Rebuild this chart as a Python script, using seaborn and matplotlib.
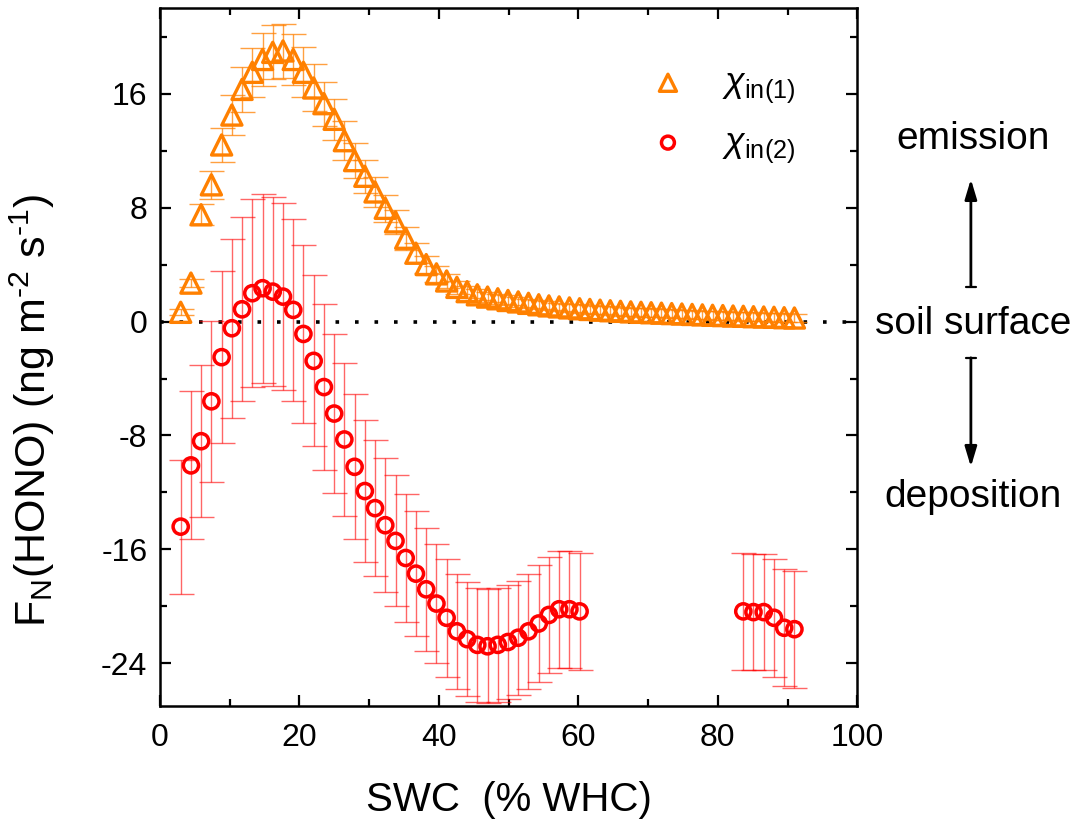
import numpy as np
import pandas as pd
import matplotlib
matplotlib.use("Agg")
import matplotlib.pyplot as plt
import seaborn as sns

# ---------------- data ----------------
swc = [2.97, 4.44, 5.90, 7.37, 8.84, 10.31, 11.77, 13.24, 14.71, 16.17,
       17.64, 19.11, 20.57, 22.04, 23.51, 24.98, 26.44, 27.91, 29.38, 30.84,
       32.31, 33.78, 35.24, 36.71, 38.18, 39.65, 41.11, 42.58, 44.05, 45.51,
       46.98, 48.45, 49.91, 51.38, 52.85, 54.32, 55.78, 57.25, 58.72, 60.18,
       61.65, 63.12, 64.58, 66.05, 67.52, 68.99, 70.45, 71.92, 73.39, 74.85,
       76.32, 77.79, 79.25, 80.72, 82.19, 83.66, 85.12, 86.59, 88.06, 89.52,
       90.99]

flux_in1 = [0.65, 2.7, 7.5, 9.6, 12.4, 14.5, 16.3, 17.5, 18.4, 18.9,
            19.0, 18.4, 17.5, 16.4, 15.3, 14.2, 12.7, 11.3, 10.2, 9.1,
            7.95, 7.0, 5.85, 4.8, 4.0, 3.35, 2.85, 2.4, 2.1, 1.88,
            1.72, 1.6, 1.48, 1.38, 1.28, 1.18, 1.1, 1.03, 0.96, 0.9,
            0.85, 0.8, 0.76, 0.72, 0.68, 0.65, 0.62, 0.59, 0.56, 0.53,
            0.5, 0.47, 0.44, 0.42, 0.39, 0.37, 0.34, 0.32, 0.3, 0.27,
            0.25]
err_in1 = [0.2, 0.3, 0.75, 1.0, 1.2, 1.4, 1.6, 1.7, 1.85, 1.9,
           1.9, 1.8, 1.75, 1.65, 1.55, 1.45, 1.35, 1.25, 1.15, 1.05,
           0.95, 0.85, 0.8, 0.7, 0.6, 0.55, 0.5, 0.45, 0.42, 0.4,
           0.38, 0.36, 0.35, 0.34, 0.33, 0.32, 0.31, 0.3, 0.3, 0.3,
           0.3, 0.3, 0.3, 0.3, 0.3, 0.3, 0.3, 0.3, 0.3, 0.3,
           0.3, 0.3, 0.3, 0.3, 0.3, 0.3, 0.3, 0.3, 0.3, 0.3,
           0.3]

swc_in2 = [2.97, 4.44, 5.90, 7.37, 8.84, 10.31, 11.77, 13.24, 14.71, 16.17,
           17.64, 19.11, 20.57, 22.04, 23.51, 24.98, 26.44, 27.91, 29.38, 30.84,
           32.31, 33.78, 35.24, 36.71, 38.18, 39.65, 41.11, 42.58, 44.05, 45.51,
           46.98, 48.45, 49.91, 51.38, 52.85, 54.32, 55.78, 57.25, 58.72, 60.18,
           83.66, 85.12, 86.59, 88.06, 89.52, 90.99]
flux_in2 = [-14.4, -10.1, -8.4, -5.6, -2.5, -0.47, 0.86, 1.99, 2.34, 2.1,
            1.75, 0.82, -0.87, -2.76, -4.6, -6.46, -8.28, -10.2, -11.9, -13.1,
            -14.3, -15.4, -16.6, -17.7, -18.8, -19.8, -20.8, -21.75, -22.3, -22.7,
            -22.8, -22.7, -22.5, -22.2, -21.75, -21.2, -20.6, -20.2, -20.2, -20.35,
            -20.35, -20.4, -20.4, -20.8, -21.5, -21.6]
err_in2 = [4.7, 5.2, 5.35, 5.65, 6.05, 6.3, 6.45, 6.6, 6.65, 6.65,
           6.55, 6.4, 6.25, 6.0, 5.8, 5.6, 5.35, 5.1, 5.0, 4.8,
           4.7, 4.6, 4.5, 4.4, 4.3, 4.2, 4.15, 4.05, 4.0, 4.0,
           4.0, 4.0, 4.0, 4.0, 4.05, 4.1, 4.1, 4.1, 4.1, 4.1,
           4.1, 4.1, 4.1, 4.15, 4.1, 4.1]

x_ticks = [0, 20, 40, 60, 80, 100]
y_ticks = [-24, -16, -8, 0, 8, 16]
label_in1 = r"$\chi_{\mathrm{in(1)}}$"
label_in2 = r"$\chi_{\mathrm{in(2)}}$"

df1 = pd.DataFrame({"swc": swc, "flux": flux_in1, "err": err_in1})
df2 = pd.DataFrame({"swc": swc_in2, "flux": flux_in2, "err": err_in2})

# ---------------- style ----------------
sns.set_theme(style="ticks")
plt.rcParams["font.family"] = ["Liberation Sans", "DejaVu Sans"]
plt.rcParams["mathtext.fontset"] = "custom"
plt.rcParams["mathtext.rm"] = "Liberation Sans"
plt.rcParams["mathtext.it"] = "Liberation Sans:italic"
plt.rcParams["mathtext.bf"] = "Liberation Sans:bold"
plt.rcParams["axes.unicode_minus"] = False
for key in ["text.color", "axes.labelcolor", "xtick.color", "ytick.color",
            "axes.edgecolor", "xtick.labelcolor", "ytick.labelcolor"]:
    plt.rcParams[key] = "black"

ORANGE = "#FF8000"
RED = "#FF0000"

fig = plt.figure(figsize=(10.81, 8.22), dpi=100)
ax = fig.add_axes([0.148, 0.141, 0.645, 0.849])

# zero line
ax.axhline(0, color="black", lw=2.6, linestyle=(0, (1, 4.4)), zorder=1)

# error bars
ax.errorbar(df1["swc"], df1["flux"], yerr=df1["err"], fmt="none",
            ecolor=ORANGE, elinewidth=1.0, capsize=9, capthick=1.0,
            alpha=0.75, zorder=2)
ax.errorbar(df2["swc"], df2["flux"], yerr=df2["err"], fmt="none",
            ecolor=RED, elinewidth=1.0, capsize=9, capthick=1.0,
            alpha=0.6, zorder=2)

# markers
sns.scatterplot(data=df1, x="swc", y="flux", marker="^", s=210,
                color=ORANGE, facecolor="none", edgecolor=ORANGE,
                linewidth=2.4, ax=ax, zorder=3, label=label_in1)
sns.scatterplot(data=df2, x="swc", y="flux", marker="o", s=120,
                color=RED, facecolor="none", edgecolor=RED,
                linewidth=2.5, ax=ax, zorder=4, label=label_in2)

ax.set_xlim(0, 100)
ax.set_ylim(-27, 22)
ax.set_xticks(x_ticks)
ax.set_yticks(y_ticks)
ax.set_xticks([10, 30, 50, 70, 90], minor=True)
ax.set_yticks([-20, -12, -4, 4, 12, 20], minor=True)
ax.tick_params(which="both", direction="in", top=True, right=True,
               width=1.6, labelsize=23)
ax.tick_params(axis="x", pad=12)
ax.tick_params(axis="y", pad=9)
ax.tick_params(which="major", length=8)
ax.tick_params(which="minor", length=5)
for sp in ax.spines.values():
    sp.set_linewidth(1.8)
    sp.set_visible(True)

ax.set_xlabel("SWC  (% WHC)", fontsize=29, labelpad=20)
ax.set_ylabel("F$_\\mathrm{N}$(HONO) (ng m$^{\\mathrm{\u2010}2}$ s$^{\\mathrm{\u2010}1}$)",
              fontsize=31)
ax.yaxis.set_label_coords(-0.148, 0.423)

leg = ax.legend(loc="upper left", bbox_to_anchor=(0.656, 0.939), frameon=False,
                fontsize=26, handletextpad=0.5, labelspacing=0.55,
                markerscale=0.85, borderaxespad=0)

# right-side annotations
ax.text(116.6, 12.8, "emission", fontsize=28, ha="center", va="center", clip_on=False)
ax.text(116.6, -0.2, "soil surface", fontsize=28, ha="center", va="center", clip_on=False)
ax.text(116.6, -12.3, "deposition", fontsize=28, ha="center", va="center", clip_on=False)
for y0, y1 in [(2.45, 10.0), (-2.55, -10.2)]:
    ax.annotate("", xy=(116.3, y1), xytext=(116.3, y0), xycoords="data",
                annotation_clip=False,
                arrowprops=dict(arrowstyle="-|>,head_length=1.0,head_width=0.3",
                                color="black", lw=2, shrinkA=0, shrinkB=0))
    ax.annotate("", xy=(116.3, y0 + 0.01 * np.sign(y1)), xytext=(116.3, y0),
                xycoords="data", annotation_clip=False,
                arrowprops=dict(arrowstyle="|-|,widthA=0.3,widthB=0.0",
                                color="black", lw=1.6, shrinkA=0, shrinkB=0))

fig.savefig("out.png", dpi=100)
